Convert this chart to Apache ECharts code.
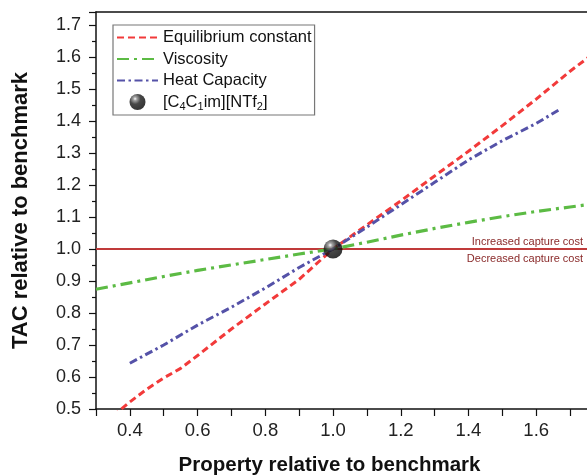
<!DOCTYPE html>
<html>
<head>
<meta charset="utf-8">
<script src="https://cdn.jsdelivr.net/npm/echarts@6/dist/echarts.min.js"></script>
<style>
  html, body { margin: 0; padding: 0; background: #fff; }
  #chart { width: 587px; height: 475px; }
</style>
</head>
<body>
<div id="chart"></div>
<script>
// Property multiplier (x) and the resulting TAC ratio (y) for each sensitivity
const equilibriumX = [0.30, 0.40, 0.45, 0.50, 0.55, 0.60, 0.70, 0.80, 0.90, 1.00, 1.10, 1.20, 1.30, 1.40, 1.50, 1.60, 1.70, 1.80];
const equilibriumY = [0.435, 0.522, 0.562, 0.597, 0.627, 0.667, 0.750, 0.828, 0.905, 1.000, 1.075, 1.150, 1.228, 1.305, 1.385, 1.468, 1.555, 1.635];

const viscosityX = [0.30, 0.40, 0.50, 0.60, 0.70, 0.80, 0.90, 1.00, 1.10, 1.20, 1.30, 1.40, 1.50, 1.60, 1.70, 1.80];
const viscosityY = [0.874, 0.894, 0.914, 0.933, 0.950, 0.967, 0.984, 1.000, 1.021, 1.043, 1.064, 1.083, 1.101, 1.117, 1.131, 1.145];

const heatCapX = [0.40, 0.50, 0.60, 0.70, 0.80, 0.90, 1.00, 1.10, 1.20, 1.30, 1.40, 1.50, 1.60, 1.67];
const heatCapY = [0.643, 0.700, 0.762, 0.818, 0.878, 0.942, 1.000, 1.068, 1.138, 1.208, 1.278, 1.338, 1.392, 1.436];

const benchmark = [[1.0, 1.0]];
const breakEven = 1.0;

const seriesNames = ['Equilibrium constant', 'Viscosity', 'Heat Capacity', '[C4C1im][NTf2]'];
const annotationAbove = 'Increased capture cost';
const annotationBelow = 'Decreased capture cost';

const xTitle = 'Property relative to benchmark';
const yTitle = 'TAC relative to benchmark';

const pair = (xs, ys) => xs.map((x, i) => [x, ys[i]]);

const FONT = "'Liberation Sans', Arial, sans-serif";

const chart = echarts.init(document.getElementById('chart'), null, { renderer: 'canvas' });

const sphere = new echarts.graphic.RadialGradient(0.35, 0.3, 0.75, [
  { offset: 0, color: '#ffffff' },
  { offset: 0.15, color: '#8a8a8a' },
  { offset: 0.45, color: '#1a1a1a' },
  { offset: 1, color: '#000000' }
]);

// line series keep their legend line, but the marker dot is hidden
const hiddenDot = { opacity: 0 };

chart.setOption({
  animation: false,
  backgroundColor: '#ffffff',
  grid: { left: 96, right: 0, top: 12, bottom: 66, containLabel: false, outerBoundsMode: 'none' },
  legend: {
    left: 113,
    top: 25,
    orient: 'vertical',
    data: [
      { name: seriesNames[0], itemStyle: hiddenDot },
      { name: seriesNames[1], itemStyle: hiddenDot },
      { name: seriesNames[2], itemStyle: hiddenDot },
      { name: seriesNames[3] }
    ],
    itemWidth: 41,
    itemHeight: 16,
    itemGap: 4.5,
    padding: [4, 3, 3, 3],
    borderColor: '#777777',
    borderWidth: 1.2,
    backgroundColor: '#ffffff',
    textStyle: {
      fontFamily: FONT,
      fontSize: 16.5,
      color: '#111111',
      rich: {
        sub: { fontFamily: FONT, fontSize: 11, verticalAlign: 'bottom', padding: [9, 0, 0, 0], color: '#111111' }
      }
    },
    formatter: name => name === seriesNames[3]
      ? '[C{sub|4}C{sub|1}im][NTf{sub|2}]'
      : name
  },
  xAxis: [{
    type: 'value',
    min: 0.3,
    max: 1.75,
    interval: 0.1,
    name: xTitle,
    nameLocation: 'middle',
    nameGap: 46,
    nameTextStyle: { fontFamily: FONT, fontSize: 20.5, fontWeight: 'bold', color: '#111', padding: [0, 24, 0, 0] },
    axisLine: { show: true, onZero: false, lineStyle: { color: '#111', width: 1.5 } },
    axisTick: { show: true, inside: false, length: 7, lineStyle: { color: '#111', width: 1.2 } },
    axisLabel: {
      fontFamily: FONT, fontSize: 18.5, color: '#222', margin: 12,
      showMaxLabel: false,
      formatter: v => {
        const t = Math.round(v * 10);
        return t % 2 === 0 ? (t / 10).toFixed(1) : '';
      }
    },
    splitLine: { show: false }
  }, {
    // top frame line
    type: 'value',
    position: 'top',
    min: 0.3,
    max: 1.75,
    axisLine: { show: true, onZero: false, lineStyle: { color: '#111', width: 1.5 } },
    axisTick: { show: false },
    axisLabel: { show: false },
    splitLine: { show: false }
  }],
  yAxis: {
    type: 'value',
    min: 0.5,
    max: 1.74,
    interval: 0.1,
    name: yTitle,
    nameLocation: 'middle',
    nameGap: 64,
    nameTextStyle: { fontFamily: FONT, fontSize: 22, fontWeight: 'bold', color: '#111' },
    axisLine: { show: true, onZero: false, lineStyle: { color: '#111', width: 1.5 } },
    axisTick: { show: true, inside: false, length: 7, lineStyle: { color: '#111', width: 1.2 } },
    minorTick: { show: true, splitNumber: 2, length: 4, lineStyle: { color: '#111', width: 1.2 } },
    axisLabel: {
      fontFamily: FONT, fontSize: 18, color: '#222', margin: 15,
      showMaxLabel: false,
      formatter: v => v.toFixed(1)
    },
    splitLine: { show: false }
  },
  series: [
    {
      name: seriesNames[0],
      type: 'line',
      data: pair(equilibriumX, equilibriumY),
      showSymbol: false,
      symbol: 'none',
      clip: true,
      z: 3,
      lineStyle: { color: '#f23a3a', width: 3, type: [7, 4] },
      itemStyle: { color: '#f23a3a' },
      markLine: {
        silent: true,
        symbol: 'none',
        z: 1,
        lineStyle: { color: '#c03a3a', width: 2, type: 'solid' },
        data: [
          {
            yAxis: breakEven,
            label: {
              show: true, position: 'insideEndTop', formatter: annotationAbove,
              fontFamily: FONT, fontSize: 11, color: '#8a2a2a', distance: [4, 1]
            }
          },
          {
            yAxis: breakEven,
            label: {
              show: true, position: 'insideEndBottom', formatter: annotationBelow,
              fontFamily: FONT, fontSize: 11, color: '#8a2a2a', distance: [4, 5]
            }
          }
        ]
      }
    },
    {
      name: seriesNames[1],
      type: 'line',
      data: pair(viscosityX, viscosityY),
      showSymbol: false,
      symbol: 'none',
      clip: true,
      z: 3,
      lineStyle: { color: '#5cbb44', width: 3.2, type: [12, 5, 3, 5] },
      itemStyle: { color: '#5cbb44' }
    },
    {
      name: seriesNames[2],
      type: 'line',
      data: pair(heatCapX, heatCapY),
      showSymbol: false,
      symbol: 'none',
      clip: true,
      z: 3,
      lineStyle: { color: '#5552a8', width: 3, type: [8, 3.5, 2.5, 3.5] },
      itemStyle: { color: '#5552a8' }
    },
    {
      name: seriesNames[3],
      type: 'scatter',
      data: benchmark,
      symbol: 'circle',
      symbolSize: 19,
      z: 5,
      itemStyle: { color: sphere, borderWidth: 0 }
    }
  ]
});
</script>
</body>
</html>
